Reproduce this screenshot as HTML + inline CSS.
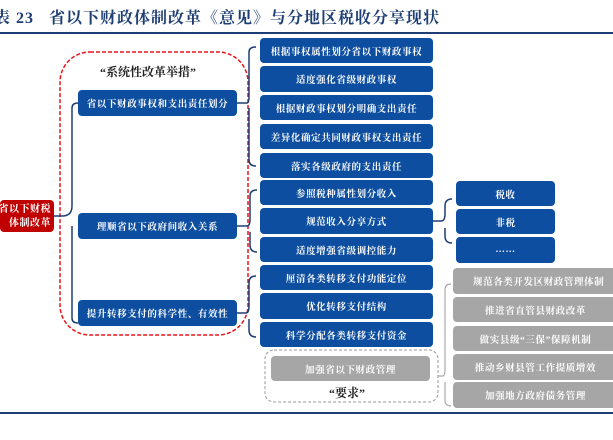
<!DOCTYPE html>
<html><head><meta charset="utf-8"><style>
body{margin:0;width:613px;height:440px;background:#fff;position:relative;overflow:hidden;font-family:"Liberation Serif","Noto Serif CJK SC",serif;}
.b{position:absolute;background:#0d4ea0;color:#fff;border-radius:4px;font-size:9.5px;font-weight:bold;display:flex;align-items:center;justify-content:center;letter-spacing:0.6px;white-space:nowrap;overflow:hidden;}
.g{background:#a6a6a6;}
.t{position:absolute;font-weight:bold;white-space:nowrap;}
svg{position:absolute;left:0;top:0;}
</style></head><body>
<div class="t" style="left:-6px;top:5px;font-size:16px;color:#1f3f74;letter-spacing:1px">表 23&nbsp;&nbsp;&nbsp;省以下财政体制改革《意见》与分地区税收分享现状</div>
<svg width="613" height="440">
<line x1="0" y1="33" x2="613" y2="33" stroke="#1f3f74" stroke-width="2"/>
<line x1="0" y1="413" x2="613" y2="413" stroke="#1f3f74" stroke-width="2"/>
<rect x="60" y="52" width="188" height="283" rx="30" fill="none" stroke="#e8141c" stroke-width="1.5" stroke-dasharray="4,2"/>
<rect x="265" y="350" width="173" height="52" rx="9" fill="none" stroke="#999" stroke-width="1" stroke-dasharray="3,2"/>
<g fill="none" stroke="#1f3f74" stroke-width="1.5">
<path d="M54 216 H62 Q72 216 72 206 V108 Q72 103 78 103"/>
<path d="M72 226 V318 Q72 323 78 323"/>
<path d="M237 103 H247 Q249 103 249 96 V52 Q249 47 256 47 M249 108 V160 Q249 166 256 166"/>
<path d="M237 226 H247 Q250 226 250 219 V196 Q250 190 257 190 M250 232 V245 Q250 252 257 252"/>
<path d="M237 313 H246 Q249 313 249 306 V283 Q249 276 256 276 M249 319 V330 Q249 337 256 337"/>
<path d="M433 221 H441 Q445 221 445 214 V206 Q445 199 452 199 M445 228 V236 Q445 243 452 243"/>
</g>
<path d="M438 376 H443 Q445 376 445 369 V290 Q445 284 451 284 M445 382 V400 Q445 406 451 406" fill="none" stroke="#aaa" stroke-width="1.2"/>
</svg>
<div class="b" style="left:0;top:200px;width:54px;height:32px;background:#c00000;display:block;font-size:10px;line-height:15px;letter-spacing:0.5px;padding-top:1px;box-sizing:border-box">
<div style="position:absolute;right:3px;top:2px">省以下财税</div>
<div style="position:absolute;right:3px;top:16px">体制改革</div></div>
<div class="t" style="left:100px;top:63px;font-size:12px;color:#222">“系统性改革举措”</div>
<div class="b" style="left:78px;top:90px;width:159px;height:26px">省以下财政事权和支出责任划分</div>
<div class="b" style="left:78px;top:213px;width:159px;height:26px">理顺省以下政府间收入关系</div>
<div class="b" style="left:78px;top:300px;width:159px;height:26px">提升转移支付的科学性、有效性</div>
<div class="b" style="left:260px;top:38px;width:173px;height:25px">根据事权属性划分省以下财政事权</div>
<div class="b" style="left:260px;top:66px;width:173px;height:26px">适度强化省级财政事权</div>
<div class="b" style="left:260px;top:95px;width:173px;height:25px">根据财政事权划分明确支出责任</div>
<div class="b" style="left:260px;top:124px;width:173px;height:25px">差异化确定共同财政事权支出责任</div>
<div class="b" style="left:260px;top:153px;width:173px;height:25px">落实各级政府的支出责任</div>
<div class="b" style="left:260px;top:180px;width:173px;height:25px">参照税种属性划分收入</div>
<div class="b" style="left:260px;top:208px;width:173px;height:26px">规范收入分享方式</div>
<div class="b" style="left:260px;top:237px;width:173px;height:25px">适度增强省级调控能力</div>
<div class="b" style="left:260px;top:265px;width:173px;height:25px">厘清各类转移支付功能定位</div>
<div class="b" style="left:260px;top:293px;width:173px;height:26px">优化转移支付结构</div>
<div class="b" style="left:260px;top:322px;width:173px;height:25px">科学分配各类转移支付资金</div>
<div class="b g" style="left:271px;top:356px;width:159px;height:25px">加强省以下财政管理</div>
<div class="t" style="left:329px;top:384px;font-size:12px;color:#222">“要求”</div>
<div class="b" style="left:456px;top:181px;width:99px;height:25px">税收</div>
<div class="b" style="left:456px;top:209px;width:99px;height:25px">非税</div>
<div class="b" style="left:456px;top:237px;width:99px;height:26px">……</div>
<div class="b g" style="left:453px;top:268px;width:165px;height:26px;justify-content:flex-start;padding-left:20px;box-sizing:border-box">规范各类开发区财政管理体制</div>
<div class="b g" style="left:453px;top:297px;width:165px;height:25px">推进省直管县财政改革</div>
<div class="b g" style="left:453px;top:326px;width:165px;height:25px">做实县级“三保”保障机制</div>
<div class="b g" style="left:453px;top:354px;width:165px;height:26px">推动乡财县管工作提质增效</div>
<div class="b g" style="left:453px;top:382px;width:165px;height:26px">加强地方政府债务管理</div>
</body></html>
